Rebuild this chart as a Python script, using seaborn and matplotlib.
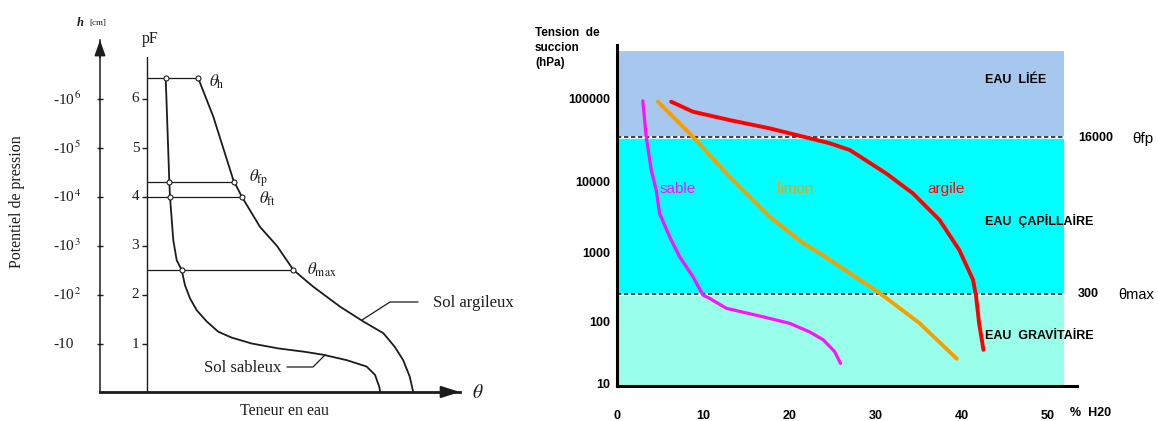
import numpy as np
import matplotlib
matplotlib.use("Agg")
import matplotlib.pyplot as plt
from matplotlib.ticker import NullLocator
import seaborn as sns

# ---------------- data : left schematic (theta, pF) ----------------
sand_theta = [3.12, 3.72, 3.83, 4.38, 4.95, 5.78, 6.33, 7.17, 8.28, 9.95, 11.88,
              14.12, 17.45, 21.88, 26.33, 29.4, 33.3, 36.6, 38.0, 38.7, 38.9]
sand_pf = [6.42, 4.31, 4.01, 3.12, 2.71, 2.51, 2.20, 1.93, 1.69, 1.46, 1.25,
           1.13, 1.01, 0.91, 0.84, 0.78, 0.67, 0.54, 0.37, 0.13, 0.0]
clay_theta = [8.55, 11.05, 14.38, 15.78, 18.83, 21.67, 24.4, 27.7, 32.2, 36.05,
              39.4, 41.3, 42.7, 43.8, 44.4]
clay_pf = [6.42, 5.64, 4.35, 4.01, 3.39, 3.0, 2.51, 2.17, 1.76, 1.46,
           1.22, 0.94, 0.67, 0.33, 0.0]
level_pf = [6.42, 4.31, 4.01, 2.51]
level_sand_theta = [3.12, 3.72, 3.83, 5.78]
level_clay_theta = [8.55, 14.5, 15.78, 24.4]
pf_ticks = [1, 2, 3, 4, 5, 6]
pf_labels = ["1", "2", "3", "4", "5", "6"]
h_labels = ["-10", "-10$^{\\,2}$", "-10$^{\\,3}$", "-10$^{\\,4}$", "-10$^{\\,5}$", "-10$^{\\,6}$"]

# ---------------- data : right chart (% H2O, hPa) ----------------
sable_x = [2.94, 3.33, 3.92, 4.50, 4.88, 6.05, 7.21, 8.76, 9.92, 10.7, 12.64,
           16.9, 20.0, 22.3, 23.9, 25.2, 25.9]
sable_y = [95000, 35200, 13950, 7700, 3620, 1700, 883, 454, 246, 220, 158,
           119, 95, 69, 51, 33, 21]
limon_x = [4.69, 8.37, 13.0, 17.67, 21.55, 23.5, 30.5, 35.1, 39.4]
limon_y = [93000, 38600, 11600, 3240, 1370, 990, 260, 95, 25]
argile_x = [6.24, 8.76, 13.0, 17.67, 21.55, 24.65, 26.98, 31.2, 34.3, 37.4,
            39.7, 41.3, 41.65, 42.0, 42.5]
argile_y = [92700, 70300, 55800, 44300, 35200, 29300, 24300, 12700, 6930, 2920,
            1100, 406, 233, 95, 35]
y_ticks = [10, 100, 1000, 10000, 100000]
y_ticklabels = ["10", "100", "1000", "10000", "100000"]
x_ticks = [0, 10, 20, 30, 40, 50]
x_ticklabels = ["0", "10", "20", "30", "40", "50"]
theta_fp_level = 34800
theta_max_level = 255
band_top = 378000
band_x_end = 51.9

sns.set_theme(style="white")
plt.rcParams["font.family"] = ["Liberation Sans", "DejaVu Sans"]
plt.rcParams["mathtext.fontset"] = "stix"

W, H = 1158, 421
fig = plt.figure(figsize=(W / 100, H / 100), dpi=100)
fig.patch.set_facecolor("white")


def fx(px):
    return px / W


def fy(py):
    return 1 - py / H


SERIF = ["Liberation Serif", "DejaVu Serif"]
INK = "#1c1c1c"

# ======================= LEFT PANEL =======================
axL = fig.add_axes([fx(100), fy(392), (460 - 100) / W, (392 - 40) / H])
axL.set_facecolor("white")
axL.set_xlim((100 - 147) / 6, (460 - 147) / 6)
axL.set_ylim((393 - 392) / 49, (393 - 40) / 49)
for s in ["top", "right"]:
    axL.spines[s].set_visible(False)
axL.spines["left"].set_linewidth(1.1)
axL.spines["left"].set_color(INK)
axL.spines["bottom"].set_linewidth(2.0)
axL.spines["bottom"].set_color(INK)
axL.set_xticks([])
axL.set_yticks(pf_ticks)
axL.set_yticklabels([])
axL.tick_params(axis="y", direction="inout", length=4, width=1, color=INK, left=True)
axL.annotate("", xy=(1.0, 0), xytext=(0.95, 0), xycoords="axes fraction",
             arrowprops=dict(arrowstyle="-|>,head_length=0.95,head_width=0.3",
                             color=INK, lw=1.5, shrinkA=0, shrinkB=0),
             annotation_clip=False)
axL.annotate("", xy=(0, 1.0), xytext=(0, 0.95), xycoords="axes fraction",
             arrowprops=dict(arrowstyle="-|>,head_length=0.8,head_width=0.28",
                             color=INK, lw=1.1, shrinkA=0, shrinkB=0),
             annotation_clip=False)

# pF axis
axL.plot([0, 0], [0, 6.86], color=INK, lw=1.0)
axL.hlines(pf_ticks, -0.85, 0, color=INK, lw=1.0)

# level lines
axL.hlines(level_pf, 0, level_clay_theta, color=INK, lw=0.9)

sns.lineplot(x=sand_theta, y=sand_pf, sort=False, estimator=None, color=INK,
             lw=1.3, ax=axL)
sns.lineplot(x=clay_theta, y=clay_pf, sort=False, estimator=None, color=INK,
             lw=1.3, ax=axL)
axL.plot(level_sand_theta + level_clay_theta, level_pf + level_pf, "o", ls="none",
         mfc="white", mec=INK, ms=3.6, mew=0.8, zorder=5)

# leaders
axL.plot([(362 - 147) / 6, (390 - 147) / 6, (418 - 147) / 6],
         [(393 - 320) / 49, (393 - 302) / 49, (393 - 302) / 49], color=INK, lw=0.9)
axL.plot([(287 - 147) / 6, (313 - 147) / 6, (325 - 147) / 6],
         [(393 - 367) / 49, (393 - 367) / 49, (393 - 355) / 49], color=INK, lw=0.9)

# left texts
for t, lab in zip(pf_ticks, h_labels):
    fig.text(fx(53), fy(393 - 49 * t), lab, family=SERIF, fontsize=11,
             ha="left", va="center", color=INK)
for t, lab in zip(pf_ticks, pf_labels):
    fig.text(fx(135.5), fy(393 - 49 * t), lab, family=SERIF, fontsize=11,
             ha="center", va="center", color=INK)
fig.text(fx(17), fy(202), "Potentiel de pression", family=SERIF, fontsize=11.5,
         rotation=90, ha="center", va="center", color=INK)
fig.text(fx(150), fy(39), "pF", family=SERIF, fontsize=11.5, ha="center",
         va="center", color=INK)
fig.text(fx(77), fy(23), "h", family=SERIF, fontsize=9, style="italic",
         weight="bold", ha="left", va="center", color=INK)
fig.text(fx(89), fy(23), "[cm]", family=SERIF, fontsize=6.5, ha="left",
         va="center", color=INK)
fig.text(fx(284), fy(411), "Teneur en eau", family=SERIF, fontsize=11.5,
         ha="center", va="center", color=INK)
fig.text(fx(472), fy(393), r"$\theta$", fontsize=14, ha="left", va="center",
         color=INK)
fig.text(fx(209), fy(82), r"$\theta_{\mathrm{h}}$", fontsize=12, ha="left",
         va="center", color=INK)
fig.text(fx(249), fy(178), r"$\theta_{\mathrm{fp}}$", fontsize=12, ha="left",
         va="center", color=INK)
fig.text(fx(259), fy(199), r"$\theta_{\mathrm{ft}}$", fontsize=12, ha="left",
         va="center", color=INK)
fig.text(fx(307), fy(270), r"$\theta_{\mathrm{max}}$", fontsize=12, ha="left",
         va="center", color=INK)
fig.text(fx(433), fy(303), "Sol argileux", family=SERIF, fontsize=12, ha="left",
         va="center", color=INK)
fig.text(fx(204), fy(368), "Sol sableux", family=SERIF, fontsize=12, ha="left",
         va="center", color=INK)

# ======================= RIGHT PANEL =======================
LOGS = [0, 1, 2, 3, 4, 5, 7]
PIX = [-58, 3, 64, 133, 204, 287, 453]


def fwd(v):
    v = np.asarray(v, dtype=float)
    return np.interp(np.log10(np.clip(v, 1e-6, None)), LOGS, PIX)


def inv(p):
    p = np.asarray(p, dtype=float)
    return 10 ** np.interp(p, PIX, LOGS)


axR = fig.add_axes([fx(617), fy(386), (1077 - 617) / W, (386 - 45) / H])
axR.set_facecolor("white")
axR.set_yscale("function", functions=(fwd, inv))
x0, x1 = (617 - 617.5) / 8.61, (1077 - 617.5) / 8.61
axR.set_xlim(x0, x1)
ylo, yhi = float(inv(0)), float(inv(341))
axR.set_ylim(ylo, yhi)

bx = [x0, band_x_end]
axR.fill_between(bx, ylo, theta_max_level, color="#99ffea", lw=0, zorder=0)
axR.fill_between(bx, theta_max_level, theta_fp_level, color="#00ffff", lw=0, zorder=0)
axR.fill_between(bx, theta_fp_level, band_top, color="#a6c8ef", lw=0, zorder=0)
axR.hlines([theta_fp_level, theta_max_level], x0, band_x_end, colors="white",
           lw=1.8, zorder=1)
axR.hlines([theta_fp_level, theta_max_level], x0, band_x_end, colors="#222222",
           lw=1.2, linestyles=(0, (2.6, 1.6)), zorder=1.1)

sns.lineplot(x=sable_x, y=sable_y, sort=False, estimator=None, color="#ff10ff",
             lw=2.3, ax=axR, zorder=3)
sns.lineplot(x=limon_x, y=limon_y, sort=False, estimator=None, color="#f5a000",
             lw=2.8, ax=axR, zorder=3)
sns.lineplot(x=argile_x, y=argile_y, sort=False, estimator=None, color="#ff0000",
             lw=2.8, ax=axR, zorder=3)

for s in ["top", "right"]:
    axR.spines[s].set_visible(False)
for s in ["left", "bottom"]:
    axR.spines[s].set_linewidth(2.2)
    axR.spines[s].set_color("black")

axR.set_yticks(y_ticks, y_ticklabels, fontweight="bold")
axR.yaxis.set_minor_locator(NullLocator())
axR.set_xticks(x_ticks, x_ticklabels, fontweight="bold")
axR.xaxis.set_minor_locator(NullLocator())
axR.tick_params(axis="y", length=0, pad=5, labelsize=9, labelcolor="black")
axR.tick_params(axis="x", length=0, pad=17, labelsize=9, labelcolor="black")
axR.set_xlabel("")
axR.set_ylabel("")
axR.grid(False)

# right texts
for i, line in enumerate(["Tension  de", "succion", "(hPa)"]):
    fig.text(fx(535), fy(33 + 15 * i), line, fontsize=8.5, weight="bold",
             ha="left", va="center", color="black")
fig.text(fx(985), fy(80), "EAU  LİÉE", fontsize=9, weight="bold", ha="left",
         va="center", color="black")
fig.text(fx(985), fy(221), "EAU  ÇAPİLLAİRE", fontsize=9, weight="bold", ha="left",
         va="center", color="black")
fig.text(fx(985), fy(336), "EAU  GRAVİTAİRE", fontsize=9, weight="bold", ha="left",
         va="center", color="black")
fig.text(fx(1078), fy(138), "16000", fontsize=9, weight="bold", ha="left",
         va="center", color="black")
fig.text(fx(1132), fy(139), "θfp", fontsize=11, ha="left", va="center",
         color="black")
fig.text(fx(1078), fy(294), "300", fontsize=9, weight="bold", ha="left",
         va="center", color="black")
fig.text(fx(1118), fy(295), "θmax", fontsize=10.5, ha="left", va="center",
         color="black")
fig.text(fx(1070), fy(413), "%  H20", fontsize=9, weight="bold", ha="left",
         va="center", color="black")
fig.text(fx(660), fy(189), "sable", fontsize=11, ha="left", va="center",
         color="#ff10ff")
fig.text(fx(777), fy(189), "limon", fontsize=11, ha="left", va="center",
         color="#f5a000")
fig.text(fx(927), fy(189), "argile", fontsize=11, ha="left", va="center",
         color="#ff0000")

fig.savefig("out.png", dpi=100, facecolor="white")
